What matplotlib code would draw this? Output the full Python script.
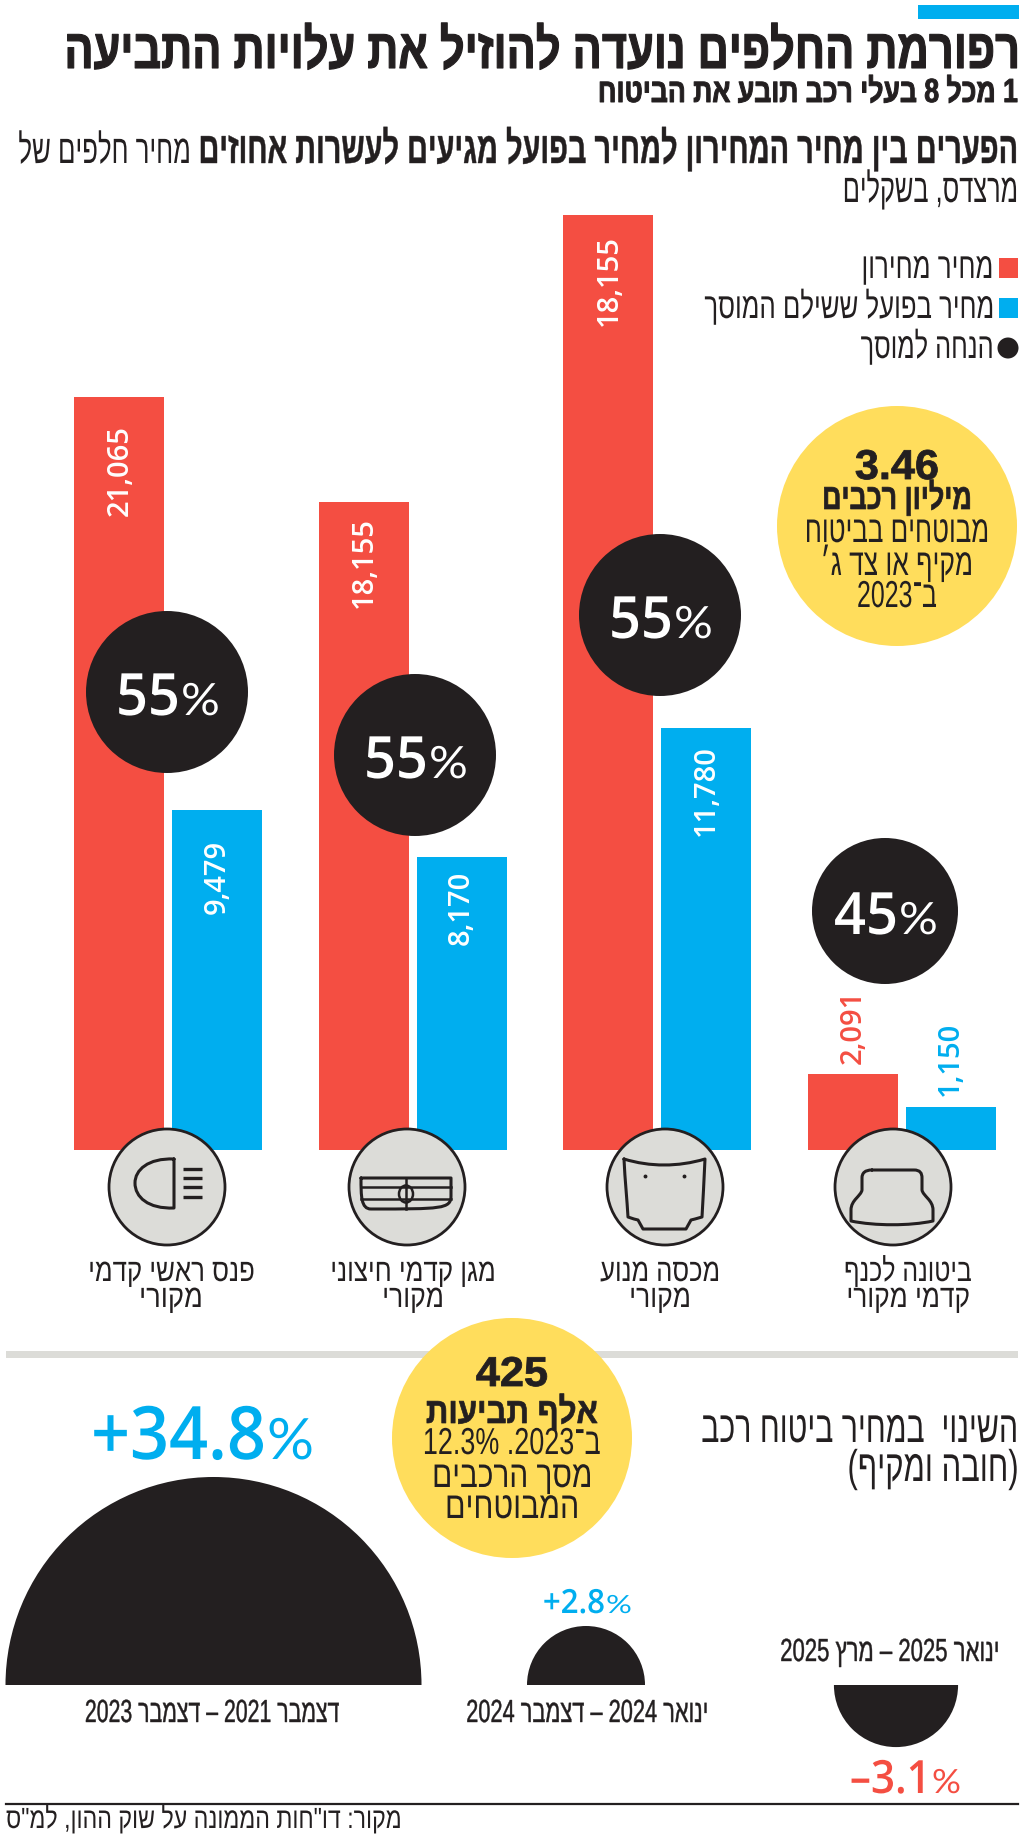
import re
import matplotlib
matplotlib.use("Agg")
import matplotlib.pyplot as plt
import numpy as np
from matplotlib import patches
from matplotlib.path import Path
from matplotlib.patheffects import AbstractPathEffect
from matplotlib.transforms import Affine2D

# bars, left to right on the page
part_labels = ["פנס ראשי קדמי\nמקורי", "מגן קדמי חיצוני\nמקורי", "מכסה מנוע\nמקורי", "ביטונה לכנף\nקדמי מקורי"]
list_values = [21000, 18090, 26090, 2116]  # heights as drawn, third bar is taller than its label
paid_values = [9479, 8170, 11780, 1200]
list_labels = ["21,065", "18,155", "18,155", "2,091"]
paid_labels = ["9,479", "8,170", "11,780", "1,150"]
discounts = [55, 55, 55, 45]

# price change half circles
period_labels = ["דצמבר 2021 – דצמבר 2023", "ינואר 2024 – דצמבר 2024", "ינואר 2025 – מרץ 2025"]
period_changes = [34.8, 2.8, -3.1]

RED = "#F44E42"
BLUE = "#00AEEF"
YELLOW = "#FFDD5C"
BLACK = "#231F20"
GRAY = "#DCDCD8"

HEB = ["Liberation Sans Narrow", "Liberation Sans"]
NUM = ["Open Sans", "DejaVu Sans"]
THIN = ["Lato", "Open Sans"]


class Tall(AbstractPathEffect):
    # stretches text up from its base line, the hebrew fonts here are too wide for their height
    def __init__(self, sy, y0, stroke=0):
        super().__init__()
        self.sy = sy
        self.y0 = y0
        self.stroke = stroke

    def draw_path(self, renderer, gc, tpath, affine, rgbFace=None):
        tall = Affine2D().translate(0, -self.y0).scale(1, self.sy).translate(0, self.y0)
        gc0 = renderer.new_gc()
        gc0.copy_properties(gc)
        if self.stroke:
            gc0.set_linewidth(self.stroke)
            gc0.set_foreground(rgbFace)
        renderer.draw_path(gc0, tpath, affine + tall, rgbFace)
        gc0.restore()


def rtl(s):
    # matplotlib has no bidi, so write the string in visual order
    s = s[::-1].translate(str.maketrans("()", ")("))
    return re.sub(r"%?\d+(?:[.,]\d+)*", lambda m: m.group(0)[::-1], s)


fig = plt.figure(figsize=(10.24, 18.38), dpi=100)

# bars get their own axes, base line at y=1150 of the page
ax_bars = fig.add_axes([0, (1838 - 1150) / 1838, 1, 1150 / 1838])
ax_bars.set_xlim(0, 1024)
ax_bars.set_ylim(0, 1150 * 27.9)
ax_bars.axis("off")

group_x = np.array([168, 412.5, 657, 901.5])
ax_bars.bar(group_x - 49, list_values, width=90, color=RED)
ax_bars.bar(group_x + 49, paid_values, width=90, color=BLUE)

# everything else goes on a page axes in pixels
ax = fig.add_axes([0, 0, 1, 1])
ax.set_xlim(0, 1024)
ax.set_ylim(1838, 0)
ax.axis("off")
ax.patch.set_alpha(0)
renderer = fig.canvas.get_renderer()


def txt(x, y, s, size, width=None, ha="right", weight="normal", color=BLACK, family=HEB, flip=True, stroke=0):
    t = ax.text(x, y, rtl(s) if flip else s, fontsize=size, ha=ha, va="baseline",
                fontweight=weight, color=color, family=family)
    if width is not None:
        # pick the font size that gives the width, then stretch back up to the height
        sx = width / t.get_window_extent(renderer).width
        t.set_fontsize(size * sx)
        t.set_path_effects([Tall(1 / sx, 1838 - y, stroke)])
    return t


def pct(x, y, num, size, num_width, pct_size, pct_width, color):
    # number and the small percent sign sit side by side
    txt(x, y, num, size, width=num_width, ha="right", weight="semibold", color=color, family=NUM, flip=False)
    txt(x + 1, y, "%", pct_size, width=pct_width, ha="left", color=color, family=THIN, flip=False)


# header
ax.add_patch(patches.Rectangle((918, 5), 101, 14, color=BLUE, lw=0))
txt(1018, 68, "רפורמת החלפים נועדה להוזיל את עלויות התביעה", 40, width=954, weight="bold", stroke=0.8)
txt(1018, 102, "1 מכל 8 בעלי רכב תובע את הביטוח", 24, width=420, weight="bold", stroke=0.7)
txt(1018, 163, "הפערים בין מחיר המחירון למחיר בפועל מגיעים לעשרות אחוזים", 32, width=819, weight="bold", stroke=0.3)
txt(190, 163, "מחיר חלפים של", 29, width=172)
txt(1018, 202, "מרצדס, בשקלים", 29, width=175)

# legend
ax.add_patch(patches.Rectangle((999, 258), 19, 20, color=RED, lw=0))
ax.add_patch(patches.Rectangle((999, 298), 19, 20, color=BLUE, lw=0))
ax.add_patch(patches.Circle((1008, 348), 10.5, color=BLACK, lw=0))
txt(993, 278, "מחיר מחירון", 26, width=132)
txt(993, 318, "מחיר בפועל ששילם המוסך", 26, width=290)
txt(993, 358, "הנחה למוסך", 26, width=133)

# value labels on the bars
bar_label_mid_list = [471, 563, 281, 1027]
bar_label_mid_paid = [877, 908, 791, 1059]
for i in range(4):
    inside = i < 3
    ax.text(group_x[i] - 48, bar_label_mid_list[i], list_labels[i], rotation=90, ha="center", va="center",
            fontsize=21, color="white" if inside else RED, family=NUM, fontweight="semibold")
    ax.text(group_x[i] + 49, bar_label_mid_paid[i], paid_labels[i], rotation=90, ha="center", va="center",
            fontsize=21, color="white" if inside else BLUE, family=NUM, fontweight="semibold")

# discount circles
circle_x = [167, 415, 660, 885]
circle_y = [692, 755, 615, 911]
circle_r = [81, 81, 81, 73]
for i in range(4):
    ax.add_patch(patches.Circle((circle_x[i], circle_y[i]), circle_r[i], color=BLACK, lw=0))
    pct(circle_x[i] + 13, circle_y[i] + 23, str(discounts[i]), 42, 64, 32, 39, "white")

# yellow notes
ax.add_patch(patches.Circle((897, 526), 120, color=YELLOW, lw=0))
txt(897, 479, "3.46", 30, width=84, ha="center", weight="bold", flip=False, stroke=0.6)
txt(897, 509, "מיליון רכבים", 26, width=150, ha="center", weight="bold", stroke=0.5)
txt(897, 542, "מבוטחים בביטוח", 27, width=184, ha="center")
txt(897, 575, "מקיף או צד ג׳", 27, width=152, ha="center")
txt(897, 607, "ב־2023", 27, width=80, ha="center")

ax.add_patch(patches.Rectangle((6, 1351), 1012, 7, color=GRAY, lw=0))
ax.add_patch(patches.Circle((512, 1438), 120, color=YELLOW, lw=0))
txt(512, 1386, "425", 30, width=72, ha="center", weight="bold", flip=False, stroke=0.6)
txt(512, 1423, "אלף תביעות", 26, width=172, ha="center", weight="bold", stroke=0.5)
txt(512, 1454, "ב־2023. 12.3%", 27, width=178, ha="center")
txt(512, 1487, "מסך הרכבים", 27, width=160, ha="center")
txt(512, 1518, "המבוטחים", 27, width=134, ha="center")

# icons under the bars
icon_x = [166, 406, 664, 892]
for x0 in icon_x:
    ax.add_patch(patches.Circle((x0 + 1, 1187), 58, fc=GRAY, ec=BLACK, lw=2))


def outline(verts, codes):
    ax.add_patch(patches.PathPatch(Path(verts, codes), fc="none", ec=BLACK, lw=2.2, capstyle="round", joinstyle="round"))


M, L, C = Path.MOVETO, Path.LINETO, Path.CURVE4

# headlight
outline([(174, 1159), (148, 1158), (135, 1170), (135, 1183), (135, 1197), (148, 1209), (174, 1208), (174, 1159)],
        [M, C, C, C, C, C, C, L])
for y0 in [1169, 1178, 1187, 1197]:
    ax.plot([183, 202], [y0, y0], color=BLACK, lw=2.4, solid_capstyle="butt")

# bumper
outline([(361, 1178), (451, 1178), (451, 1196), (451, 1209), (441, 1209), (371, 1209), (361, 1209), (361, 1196), (361, 1178)],
        [M, L, L, C, C, L, C, C, L])
ax.plot([361, 451], [1187, 1187], color=BLACK, lw=1.8)
ax.plot([361, 451], [1199, 1199], color=BLACK, lw=1.8)
ax.plot([406, 406], [1178, 1209], color=BLACK, lw=1.8)
ax.add_patch(patches.Ellipse((406, 1194), 14, 17, fc=GRAY, ec=BLACK, lw=1.8))

# hood
outline([(624, 1159), (650, 1167), (678, 1167), (705, 1159), (704, 1180), (703, 1200), (702, 1217), (695, 1219), (691, 1220), (686, 1229),
         (643, 1229), (638, 1220), (634, 1219), (628, 1217), (627, 1200), (625, 1180), (624, 1159)],
        [M, C, C, C, C, C, C, L, L, L, L, L, L, L, C, C, C])
ax.plot([645, 684], [1176, 1176], ls="none", marker="o", ms=1.8, color=BLACK)

# fender liner
outline([(872, 1170), (914, 1170), (920, 1170), (922, 1173), (922, 1178), (922, 1190), (923, 1196), (933, 1200), (933, 1210),
         (933, 1221), (910, 1226), (875, 1226), (851, 1221), (851, 1210), (851, 1200), (861, 1196), (862, 1190),
         (862, 1178), (862, 1173), (865, 1170), (872, 1170)],
        [M, L, C, C, C, L, C, C, C, L, C, C, C, L, C, C, C, L, C, C, C])

for i in range(4):
    label_x = [171, 413, 660, 908][i]
    lines = part_labels[i].split("\n")
    line_w = [[167, 64], [166, 62], [120, 62], [128, 124]][i]
    txt(label_x, 1281, lines[0], 23, width=line_w[0], ha="center")
    txt(label_x, 1307, lines[1], 23, width=line_w[1], ha="center")

# lower panel title
txt(1018, 1442, "השינוי  במחיר ביטוח רכב", 32, width=317)
txt(1018, 1481, "(חובה ומקיף)", 32, width=171)

# half circles, area goes with the change
half_x = [213.5, 586, 896]
k = 35.26
for i in range(3):
    r = k * np.sqrt(abs(period_changes[i]))
    if period_changes[i] > 0:
        ax.add_patch(patches.Wedge((half_x[i], 1685), r, 180, 360, color=BLACK, lw=0))
    else:
        ax.add_patch(patches.Wedge((half_x[i], 1685), r, 0, 180, color=BLACK, lw=0))

pct(266, 1459, "+34.8", 53, 175, 41, 47, BLUE)
pct(605, 1613, "+2.8", 24, 62, 18, 26, BLUE)
pct(931, 1793, "–3.1", 33, 81, 24, 29, RED)

txt(212, 1722, period_labels[0], 23, width=255, ha="center", stroke=0.3)
txt(587, 1722, period_labels[1], 23, width=243, ha="center", stroke=0.3)
txt(890, 1661, period_labels[2], 23, width=220, ha="center", stroke=0.3)

# source line
ax.plot([6, 1018], [1804, 1804], color=BLACK, lw=1.6)
txt(6, 1828, "מקור: דו\"חות הממונה על שוק ההון, למ\"ס", 21, width=396, ha="left")

fig.savefig("out.png", dpi=100)
